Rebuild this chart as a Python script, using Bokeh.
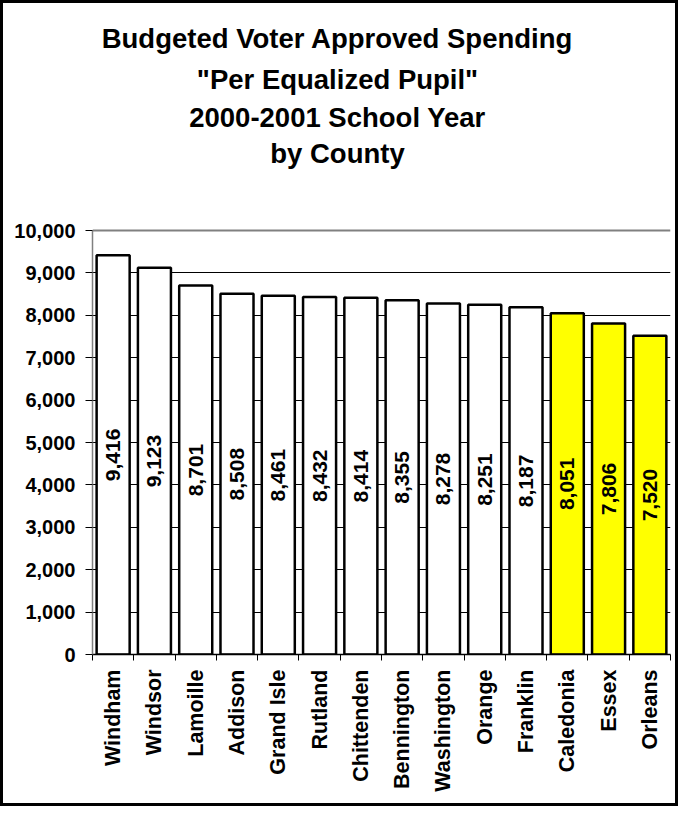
import math
from bokeh.plotting import figure
from bokeh.models import ColumnDataSource, FixedTicker, NumeralTickFormatter, Range1d
from bokeh.core.properties import value
from bokeh.embed import file_html
from bokeh.resources import INLINE

counties = ["Windham", "Windsor", "Lamoille", "Addison", "Grand Isle", "Rutland",
            "Chittenden", "Bennington", "Washington", "Orange", "Franklin",
            "Caledonia", "Essex", "Orleans"]
spending = [9416, 9123, 8701, 8508, 8461, 8432, 8414, 8355, 8278, 8251, 8187,
            8051, 7806, 7520]
highlighted = ["Caledonia", "Essex", "Orleans"]
y_ticks = list(range(0, 10001, 1000))
title_lines = ["Budgeted Voter Approved Spending", "\"Per Equalized Pupil\"",
               "2000-2001 School Year", "by County"]

FONT = "Liberation Sans"
W, H = 678, 806
BL, BR, BB = 92, 8, 152          # borders around the plotting frame
AXIS_TOP_PX = 230                 # pixel row of the top value of the axis
TITLE_BASELINES_PX = [38, 79, 117, 153]
TITLE_CENTER_PX = 337

n = len(counties)
y_top = y_ticks[-1]
frame_h = H - BB
px_per_y = (frame_h - AXIS_TOP_PX) / y_top
y_max = frame_h / px_per_y
px_per_x = (W - BL - BR) / n

xs = [i + 0.5 for i in range(n)]
colors = ["#FFFF00" if c in highlighted else "#FFFFFF" for c in counties]
src = ColumnDataSource(dict(
    x=xs, top=spending, color=colors,
    mid=[v / 2 for v in spending],
    label=[f"{v:,}" for v in spending],
))

p = figure(width=W, height=H, output_backend="svg", toolbar_location=None,
           x_range=Range1d(0, n), y_range=Range1d(0, y_max),
           min_border_left=BL, min_border_right=BR, min_border_top=0,
           min_border_bottom=BB)
p.border_fill_color = None
p.background_fill_color = None
p.outline_line_color = None
p.styles = {"background-color": "white", "box-shadow": "inset 0 0 0 3px black"}

# title
tsrc = ColumnDataSource(dict(
    x=[(TITLE_CENTER_PX - BL) / px_per_x] * len(title_lines),
    y=[(frame_h - b) / px_per_y for b in TITLE_BASELINES_PX],
    text=title_lines,
))
p.text(x="x", y="y", text="text", source=tsrc, text_align="center",
       text_baseline="alphabetic", text_font=value(FONT),
       text_font_size="27.5px", text_font_style="bold", text_color="black")

# grid (black) and plot-area top border (grey)
p.xgrid.grid_line_color = None
p.ygrid.grid_line_color = "black"
p.ygrid.grid_line_width = 1
p.ygrid.ticker = FixedTicker(ticks=y_ticks[1:-1])
p.segment(x0=[0], y0=[y_top], x1=[n], y1=[y_top], line_color="#808080",
          line_width=2)

p.vbar(x="x", top="top", width=0.8, bottom=0, source=src, fill_color="color",
       line_color="black", line_width=2.5)
p.text(x="x", y="mid", text="label", source=src, angle=math.pi / 2,
       text_align="center", text_baseline="middle", text_font=value(FONT),
       text_font_size="21px", text_font_style="bold", text_color="black")

p.yaxis.bounds = (0, y_top)
p.yaxis.ticker = FixedTicker(ticks=y_ticks)
p.yaxis.formatter = NumeralTickFormatter(format="0,0")
p.yaxis.axis_line_color = "#808080"
p.yaxis.axis_line_width = 1.5
p.yaxis.major_tick_line_color = "black"
p.yaxis.major_tick_in = 0
p.yaxis.major_tick_out = 7
p.yaxis.minor_tick_line_color = None
p.yaxis.major_label_standoff = 10
p.yaxis.major_label_text_font = FONT
p.yaxis.major_label_text_font_size = "20px"
p.yaxis.major_label_text_font_style = "bold"
p.yaxis.major_label_text_color = "black"

p.xaxis.ticker = FixedTicker(ticks=xs, minor_ticks=list(range(0, n + 1)))
p.xaxis.major_label_overrides = {x: c for x, c in zip(xs, counties)}
p.xaxis.major_label_orientation = math.pi / 2
p.xaxis.axis_line_color = "black"
p.xaxis.axis_line_width = 1.5
p.xaxis.major_tick_line_color = None
p.xaxis.major_tick_in = 0
p.xaxis.major_tick_out = 0
p.xaxis.minor_tick_line_color = "black"
p.xaxis.minor_tick_in = 0
p.xaxis.minor_tick_out = 6
p.xaxis.major_label_standoff = 9
p.xaxis.major_label_text_font = FONT
p.xaxis.major_label_text_font_size = "21.5px"
p.xaxis.major_label_text_font_style = "bold"
p.xaxis.major_label_text_color = "black"

open("out.html", "w").write(file_html(p, INLINE))
